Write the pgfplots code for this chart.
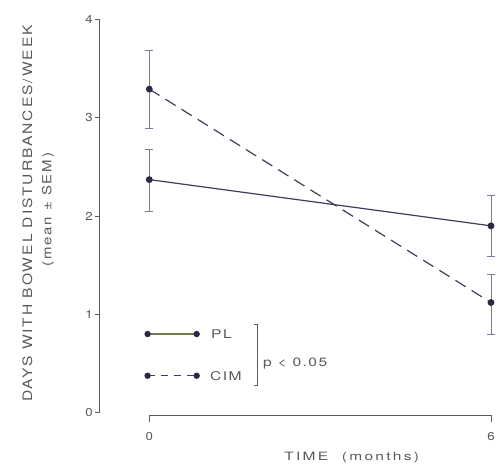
\documentclass[border=0pt]{standalone}
\usepackage{fontspec}
\setmainfont{TeX Gyre Heros}
\newfontfamily\ylabfont[FakeStretch=1.2, LetterSpace=15]{TeX Gyre Heros}
\newfontfamily\xlabfont[FakeStretch=1.35, LetterSpace=20]{TeX Gyre Heros}
\newfontfamily\legfont[FakeStretch=1.3, LetterSpace=12]{TeX Gyre Heros}
\newfontfamily\tickfont[FakeStretch=1.15]{TeX Gyre Heros}
\usepackage{pgfplots}
\pgfplotsset{compat=1.18}
\definecolor{axc}{HTML}{5A5A66}
\definecolor{textc}{HTML}{5A5A5A}
\definecolor{linec}{HTML}{3E3E58}
\definecolor{markc}{HTML}{2A2A45}
\definecolor{errc}{HTML}{7A7A9A}
\definecolor{olivec}{HTML}{6F7D4A}
\begin{document}
\begin{tikzpicture}
\useasboundingbox (-149.3pt,-54.3pt) rectangle (354.7pt,412.7pt);
\node[rotate=90, anchor=south west, inner sep=0pt, text=textc, font=\ylabfont\fontsize{13}{15}\selectfont] at (-116.8pt,10.7pt) {DAYS WITH BOWEL DISTURBANCES/WEEK};
\node[rotate=90, anchor=south west, inner sep=0pt, text=textc, font=\ylabfont\fontsize{12.5}{15}\selectfont] at (-95pt,145.7pt) {(mean ± SEM)};
\pgfplotsset{common/.style={x=56.95pt, y=98.35pt, anchor=origin, at={(0pt,0pt)},
  clip=false, tick align=outside,
  axis line style={axc, line width=1pt},
  tick style={axc, line width=1pt},
  ticklabel style={font=\tickfont\fontsize{11.5}{13}\selectfont, text=textc},
  /pgf/number format/assume math mode=true}}
% y axis
\begin{axis}[common, xmin=-0.878, xmax=6, ymin=0, ymax=4,
  axis y line*=left, axis x line=none,
  ytick={0,1,2,3,4}, major tick length=4.5pt,
  yticklabel style={xshift=1.5pt}]
  % legend sample lines
  \addplot[olivec, line width=1.1pt, mark=*, mark size=2.6pt,
    mark options={fill=markc, draw=markc, solid}]
    coordinates {(-0.03,0.80) (0.832,0.80)};
  \addplot[linec, line width=1.1pt, dash pattern=on 7pt off 6pt, mark=*, mark size=2.6pt,
    mark options={fill=markc, draw=markc, solid}]
    coordinates {(-0.03,0.376) (0.832,0.376)};
  \node[anchor=west, inner sep=0pt, text=textc, font=\legfont\fontsize{12}{14}\selectfont] at (axis cs:1.083,0.80) {PL};
  \node[anchor=west, inner sep=0pt, text=textc, font=\legfont\fontsize{12}{14}\selectfont] at (axis cs:1.066,0.376) {CIM};
  \draw[axc, line width=0.9pt] (axis cs:1.844,0.902) -- (axis cs:1.896,0.902) -- (axis cs:1.896,0.275) -- (axis cs:1.844,0.275);
  \node[anchor=base west, inner sep=0pt, text=textc, font=\legfont\fontsize{12}{14}\selectfont] at (axis cs:1.997,0.468) {p < 0.05};
\end{axis}
% x axis and data
\begin{axis}[common, xmin=0, xmax=6, ymin=-0.028, ymax=4,
  axis x line*=bottom, axis y line=none,
  xtick={0,6}, major tick length=7pt,
  xticklabel style={yshift=-6.4pt}]
  \addplot[linec, line width=1.2pt, mark=*, mark size=2.8pt,
    mark options={fill=markc, draw=markc, solid},
    error bars/.cd, y dir=both, y explicit,
    error bar style={errc, line width=0.9pt, solid},
    error mark options={errc, line width=0.9pt, mark size=4pt, solid, rotate=90}]
    coordinates {(0,2.37) += (0,0.31) -= (0,0.32) (6,1.90) += (0,0.31) -= (0,0.31)};
  \addplot[linec, line width=1.2pt, dash pattern=on 12pt off 7pt, mark=*, mark size=2.8pt,
    mark options={fill=markc, draw=markc, solid},
    error bars/.cd, y dir=both, y explicit,
    error bar style={errc, line width=0.9pt, solid},
    error mark options={errc, line width=0.9pt, mark size=4pt, solid, rotate=90}]
    coordinates {(0,3.29) += (0,0.39) -= (0,0.40) (6,1.12) += (0,0.29) -= (0,0.32)};
  \node[anchor=base, inner sep=0pt, text=textc, font=\xlabfont\fontsize{11.5}{14}\selectfont] at (axis cs:3.554,-0.483) {TIME\hspace{7pt} (months)};
\end{axis}
\end{tikzpicture}
\end{document}
